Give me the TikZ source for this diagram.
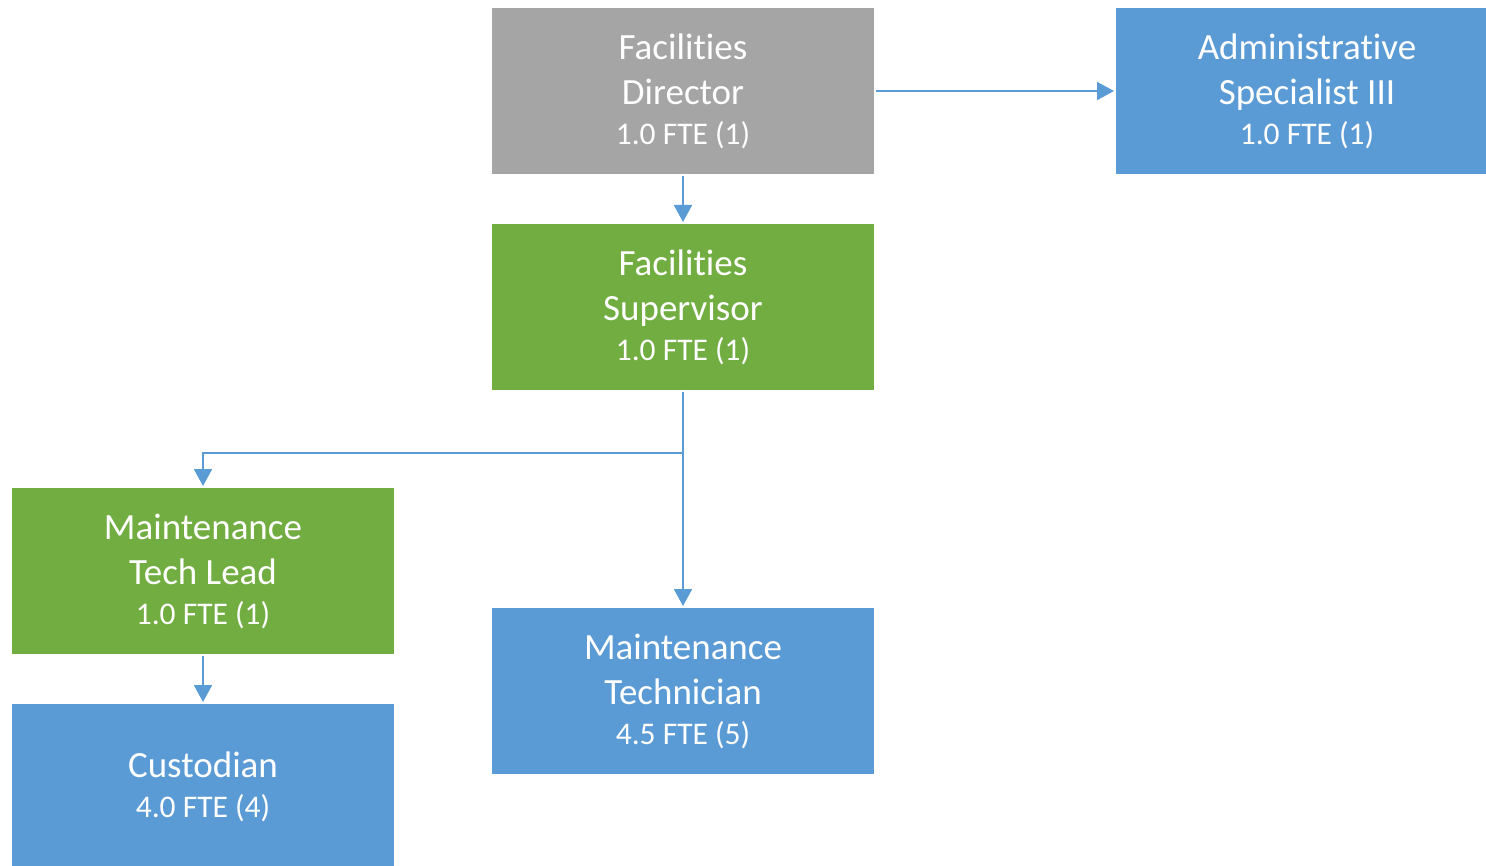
\documentclass[tikz,border=0pt]{standalone}
\usepackage{fontspec}
\setmainfont[Ligatures={NoCommon,NoRequired,NoContextual},RawFeature={-liga;-calt;-rlig}]{Carlito}
\usepackage{xcolor}
\usetikzlibrary{arrows.meta,positioning}

\definecolor{boxgray}{HTML}{A5A5A5}
\definecolor{boxblue}{HTML}{5B9BD5}
\definecolor{boxgreen}{HTML}{72AD42}

\newcommand{\fte}[1]{{\fontsize{31.5}{36}\selectfont #1}}

\begin{document}
\begin{tikzpicture}[
    x=1pt, y=-1pt,
    role/.style={rectangle, minimum width=382pt, minimum height=166pt, inner sep=0pt,
        outer sep=2pt, text=white, align=center, font=\fontsize{37}{45}\selectfont},
    head/.style={role, fill=boxgray},
    lead/.style={role, fill=boxgreen},
    staff/.style={role, fill=boxblue},
    link/.style={-{Triangle[width=18pt,length=17pt]}, draw=boxblue, line width=2pt}
]
    \clip (0,0) rectangle (1486,866);

    % Roles
    \node[head] (director) at (683,91) {Facilities\\Director\\[-5pt]\fte{1.0 FTE (1)}};
    \node[staff, right=238pt of director] (admin) {Administrative\\Specialist III\\[-5pt]\fte{1.0 FTE (1)}};
    \node[lead, below=46pt of director] (supervisor) {Facilities\\Supervisor\\[-5pt]\fte{1.0 FTE (1)}};
    \node[lead] (techlead) at (203,571) {Maintenance\\Tech Lead\\[-5pt]\fte{1.0 FTE (1)}};
    \node[staff] (technician) at (683,691) {Maintenance\\Technician\\[-5pt]\fte{4.5 FTE (5)}};
    \node[staff, below=46pt of techlead] (custodian) {Custodian\\[-5pt]\fte{4.0 FTE (4)}};

    % Reporting lines
    \coordinate (split) at (683,453);
    \draw[link] (director) -- (admin);
    \draw[link] (director) -- (supervisor);
    \draw[link] (supervisor.south) -- (split) -| (techlead.north);
    \draw[link] (supervisor) -- (technician);
    \draw[link] (techlead) -- (custodian);
\end{tikzpicture}
\end{document}
